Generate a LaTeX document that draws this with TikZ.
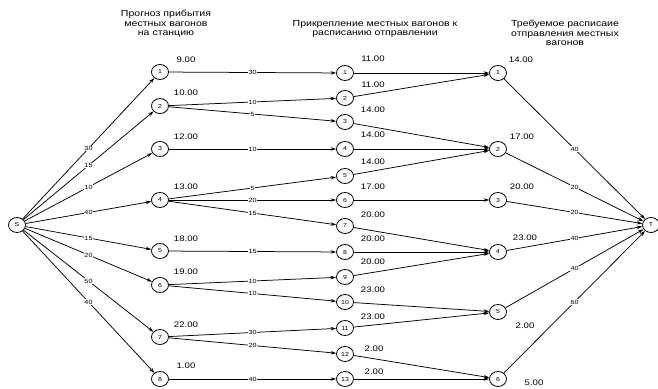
\documentclass[tikz,border=0pt]{standalone}
\usepackage{fontspec}
\setmainfont{Liberation Sans}[FakeStretch=1.2]
\usetikzlibrary{arrows.meta,shapes.geometric}
\begin{document}
\begin{tikzpicture}[x=1pt,y=-1pt,
  vert/.style={ellipse,draw,line width=0.8pt,minimum width=17pt,minimum height=15pt,inner sep=0pt,font=\fontsize{5.8}{5.8}\selectfont},
  arc/.style={line width=0.75pt,-{Stealth[length=5.5pt,width=3.5pt]}},
  flow/.style={fill=white,inner sep=0.6pt,font=\fontsize{6}{6}\selectfont},
  tlabel/.style={font=\fontsize{8}{8}\selectfont,inner sep=0pt},
  head/.style={font=\fontsize{8.8}{9.6}\selectfont,align=center,inner sep=0pt}]
\useasboundingbox (0,0) rectangle (658,388);
% headers
\node[head] (h1) at (166,24) {Прогноз прибытия\\местных вагонов\\на станцию};
\node[head] (h2) at (375,29) {Прикрепление местных вагонов к\\расписанию отправлении};
\node[head] (h3) at (565,33) {Требуемое расписаие\\отправления местных\\вагонов};
% source and sink
\node[vert] (S) at (17,225) {S};
\node[vert] (T) at (651,225) {T};
% column A
\node[vert] (a1) at (160,72) {1};
\node[vert] (a2) at (160,106) {2};
\node[vert] (a3) at (160,149) {3};
\node[vert] (a4) at (160,200) {4};
\node[vert] (a5) at (160,251) {5};
\node[vert] (a6) at (160,285) {6};
\node[vert] (a7) at (160,337) {7};
\node[vert] (a8) at (160,379) {8};
% column B
\node[vert] (b1) at (345,73) {1};
\node[vert] (b2) at (345,98) {2};
\node[vert] (b3) at (345,122) {3};
\node[vert] (b4) at (345,149) {4};
\node[vert] (b5) at (345,176) {5};
\node[vert] (b6) at (345,200) {6};
\node[vert] (b7) at (345,226) {7};
\node[vert] (b8) at (345,252) {8};
\node[vert] (b9) at (345,277) {9};
\node[vert] (b10) at (345,302) {10};
\node[vert] (b11) at (345,328) {11};
\node[vert] (b12) at (345,354) {12};
\node[vert] (b13) at (345,379) {13};
% column C
\node[vert] (c1) at (498,73) {1};
\node[vert] (c2) at (498,149) {2};
\node[vert] (c3) at (498,200) {3};
\node[vert] (c4) at (498,252) {4};
\node[vert] (c5) at (498,312) {5};
\node[vert] (c6) at (498,379) {6};
% time labels A
\node[tlabel] (ta1) at (186,60) {9.00};
\node[tlabel] (ta2) at (186,93) {10.00};
\node[tlabel] (ta3) at (186,137) {12.00};
\node[tlabel] (ta4) at (186,187) {13.00};
\node[tlabel] (ta5) at (186,239) {18.00};
\node[tlabel] (ta6) at (186,272) {19.00};
\node[tlabel] (ta7) at (186,325) {22.00};
\node[tlabel] (ta8) at (186,366) {1.00};
% time labels B
\node[tlabel] (tb1) at (373,59) {11.00};
\node[tlabel] (tb2) at (373,85) {11.00};
\node[tlabel] (tb3) at (373,110) {14.00};
\node[tlabel] (tb4) at (373,135) {14.00};
\node[tlabel] (tb5) at (373,162) {14.00};
\node[tlabel] (tb6) at (373,187) {17.00};
\node[tlabel] (tb7) at (373,215) {20.00};
\node[tlabel] (tb8) at (373,239) {20.00};
\node[tlabel] (tb9) at (373,262) {20.00};
\node[tlabel] (tb10) at (373,290) {23.00};
\node[tlabel] (tb11) at (373,317) {23.00};
\node[tlabel] (tb12) at (374,349) {2.00};
\node[tlabel] (tb13) at (374,372) {2.00};
% time labels C
\node[tlabel] (tc1) at (521,60) {14.00};
\node[tlabel] (tc2) at (522,137) {17.00};
\node[tlabel] (tc3) at (522,187) {20.00};
\node[tlabel] (tc4) at (525,238) {23.00};
\node[tlabel] (tc5) at (525,326) {2.00};
\node[tlabel] (tc6) at (534,383) {5.00};
% S -> A
\draw[arc] (S) -- node[flow] {30} (a1);
\draw[arc] (S) -- node[flow] {15} (a2);
\draw[arc] (S) -- node[flow] {10} (a3);
\draw[arc] (S) -- node[flow] {40} (a4);
\draw[arc] (S) -- node[flow] {15} (a5);
\draw[arc] (S) -- node[flow] {20} (a6);
\draw[arc] (S) -- node[flow] {50} (a7);
\draw[arc] (S) -- node[flow] {40} (a8);
% A -> B
\draw[arc] (a1) -- node[flow] {30} (b1);
\draw[arc] (a2) -- node[flow] {10} (b2);
\draw[arc] (a2) -- node[flow] {5} (b3);
\draw[arc] (a3) -- node[flow] {10} (b4);
\draw[arc] (a4) -- node[flow] {5} (b5);
\draw[arc] (a4) -- node[flow] {20} (b6);
\draw[arc] (a4) -- node[flow] {15} (b7);
\draw[arc] (a5) -- node[flow] {15} (b8);
\draw[arc] (a6) -- node[flow] {10} (b9);
\draw[arc] (a6) -- node[flow] {10} (b10);
\draw[arc] (a7) -- node[flow] {30} (b11);
\draw[arc] (a7) -- node[flow] {20} (b12);
\draw[arc] (a8) -- node[flow] {40} (b13);
% B -> C
\draw[arc] (b1) -- (c1);
\draw[arc] (b2) -- (c1);
\draw[arc] (b3) -- (c2);
\draw[arc] (b4) -- (c2);
\draw[arc] (b5) -- (c2);
\draw[arc] (b6) -- (c3);
\draw[arc] (b7) -- (c4);
\draw[arc] (b8) -- (c4);
\draw[arc] (b9) -- (c4);
\draw[arc] (b10) -- (c5);
\draw[arc] (b11) -- (c5);
\draw[arc] (b12) -- (c6);
\draw[arc] (b13) -- (c6);
% C -> T
\draw[arc] (c1) -- node[flow] {40} (T);
\draw[arc] (c2) -- node[flow] {20} (T);
\draw[arc] (c3) -- node[flow] {20} (T);
\draw[arc] (c4) -- node[flow] {40} (T);
\draw[arc] (c5) -- node[flow] {40} (T);
\draw[arc] (c6) -- node[flow] {60} (T);
\end{tikzpicture}
\end{document}
